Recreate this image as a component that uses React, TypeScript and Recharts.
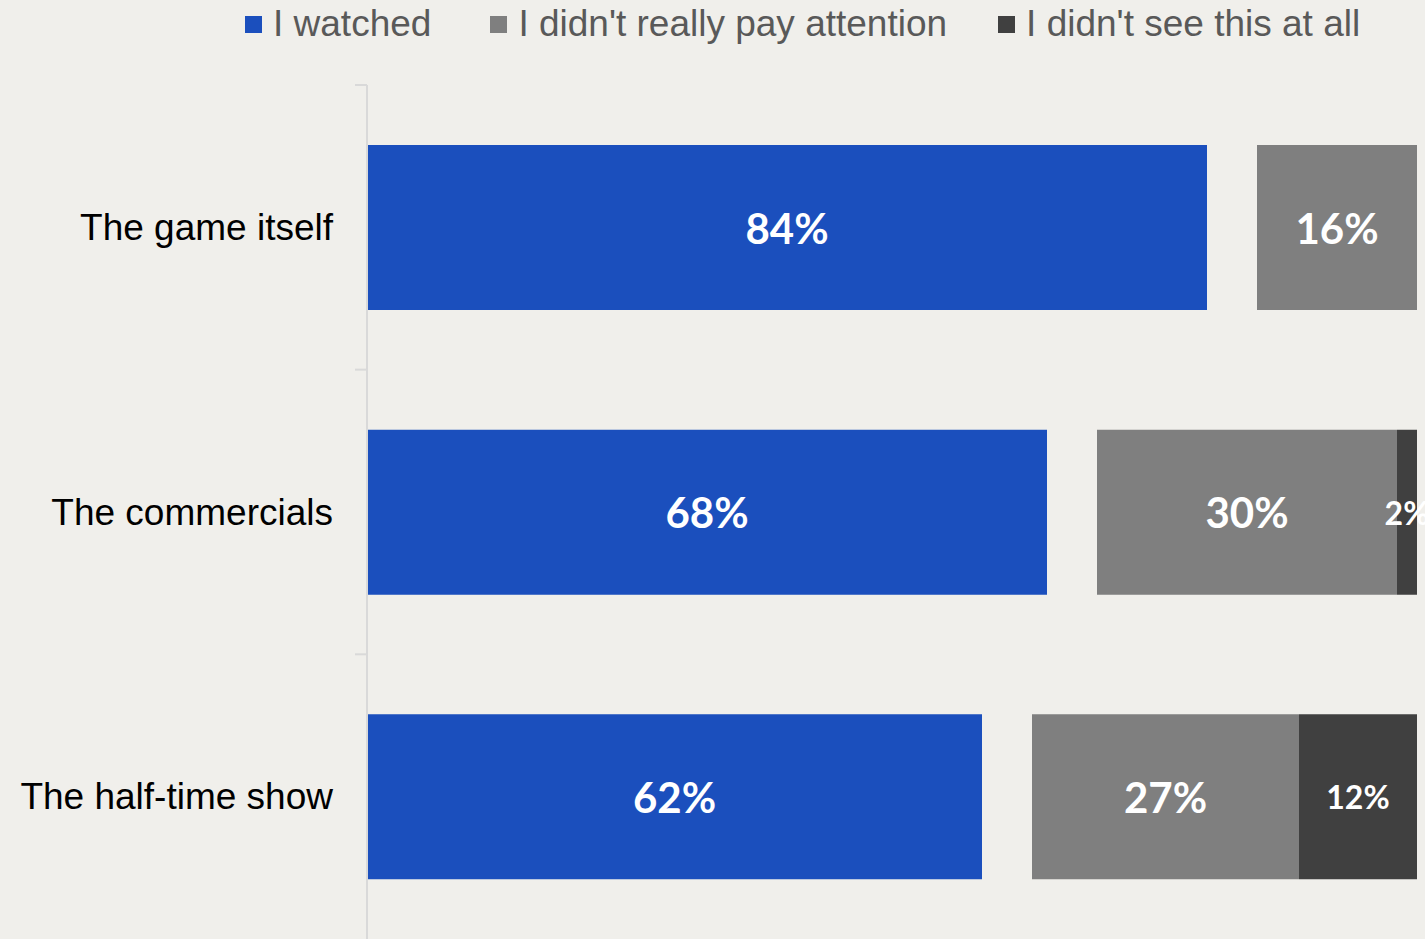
import React from 'react';
import { BarChart, Bar, XAxis, YAxis, Legend, LabelList } from 'recharts';

const categories = ['The game itself', 'The commercials', 'The half-time show'];
const watched = [84, 68, 61.5];
const gapSpacer = [5, 5, 5];
const notAttention = [16, 30, 26.7];
const notSeen = [0, 2, 11.8];

const seriesNames = ['I watched', "I didn't really pay attention", "I didn't see this at all"];
const seriesColors = ['#1B4FBD', '#7F7F7F', '#404040'];
const legendGaps = [59, 51, 0];

const data = categories.map((name, i) => ({
  name,
  watched: watched[i],
  gap: gapSpacer[i],
  notAttention: notAttention[i],
  notSeen: notSeen[i],
}));

const W = 1425;
const H = 939;
const MARGIN_TOP = 39;
const LEGEND_H = 46;
const PLOT_H = H - MARGIN_TOP - LEGEND_H;
const BAND = PLOT_H / categories.length;
const TICK_MARGIN = 34;

const CategoryTick = (props: any) => {
  const { x, y, payload } = props;
  const axisX = x + TICK_MARGIN;
  return (
    <g>
      <text
        x={x}
        y={y}
        textAnchor="end"
        dominantBaseline="central"
        fontSize={37}
        fill="#000000"
        fontFamily="'Liberation Sans', Arial, sans-serif"
      >
        {payload.value}
      </text>
      <line x1={axisX - 12} x2={axisX} y1={y - BAND / 2} y2={y - BAND / 2} stroke="#D9D9D9" strokeWidth={2} />
    </g>
  );
};

const makeLabel = (fontSize: number) => (props: any) => {
  const { x, y, width, height, value } = props;
  if (!value) return null;
  return (
    <text
      x={x + width / 2}
      y={y + height / 2}
      textAnchor="middle"
      dominantBaseline="central"
      fill="#FFFFFF"
      fontSize={fontSize}
      fontWeight={700}
      fontFamily="Lato, 'Open Sans', sans-serif"
    >
      {Math.round(value)}%
    </text>
  );
};

const LegendContent = () => (
  <div
    style={{
      display: 'flex',
      alignItems: 'center',
      height: LEGEND_H,
      paddingLeft: 245,
      paddingTop: 2,
      boxSizing: 'border-box',
      fontFamily: "'Liberation Sans', Arial, sans-serif",
      fontSize: 37,
      color: '#595959',
      whiteSpace: 'nowrap',
    }}
  >
    {seriesNames.map((n, i) => (
      <div key={n} style={{ display: 'flex', alignItems: 'center', marginRight: legendGaps[i] }}>
        <span style={{ display: 'inline-block', width: 17, height: 17, background: seriesColors[i], marginRight: 11 }} />
        <span style={{ lineHeight: '44px' }}>{n}</span>
      </div>
    ))}
  </div>
);

export default function App() {
  return (
    <div style={{ position: 'fixed', left: 0, top: 0, width: W, height: H, background: '#F0EFEB', overflow: 'hidden' }}>
      <BarChart
        width={W}
        height={H}
        data={data}
        layout="vertical"
        margin={{ top: MARGIN_TOP, right: 8, bottom: 0, left: 0 }}
        barSize={165}
      >
        <Legend
          verticalAlign="top"
          align="left"
          height={LEGEND_H}
          content={<LegendContent />}
          wrapperStyle={{ top: 0, left: 0, width: W }}
        />
        <XAxis type="number" domain={[0, 105]} hide />
        <YAxis
          type="category"
          dataKey="name"
          width={367}
          axisLine={{ stroke: '#D9D9D9', strokeWidth: 2 }}
          tickLine={false}
          tickSize={0}
          tickMargin={TICK_MARGIN}
          tick={<CategoryTick />}
          interval={0}
        />
        <Bar dataKey="watched" name={seriesNames[0]} stackId="a" fill={seriesColors[0]} isAnimationActive={false}>
          <LabelList dataKey="watched" content={makeLabel(42)} />
        </Bar>
        <Bar dataKey="gap" stackId="a" fill="transparent" legendType="none" isAnimationActive={false} />
        <Bar dataKey="notAttention" name={seriesNames[1]} stackId="a" fill={seriesColors[1]} isAnimationActive={false}>
          <LabelList dataKey="notAttention" content={makeLabel(42)} />
        </Bar>
        <Bar dataKey="notSeen" name={seriesNames[2]} stackId="a" fill={seriesColors[2]} isAnimationActive={false}>
          <LabelList dataKey="notSeen" content={makeLabel(32)} />
        </Bar>
      </BarChart>
    </div>
  );
}
